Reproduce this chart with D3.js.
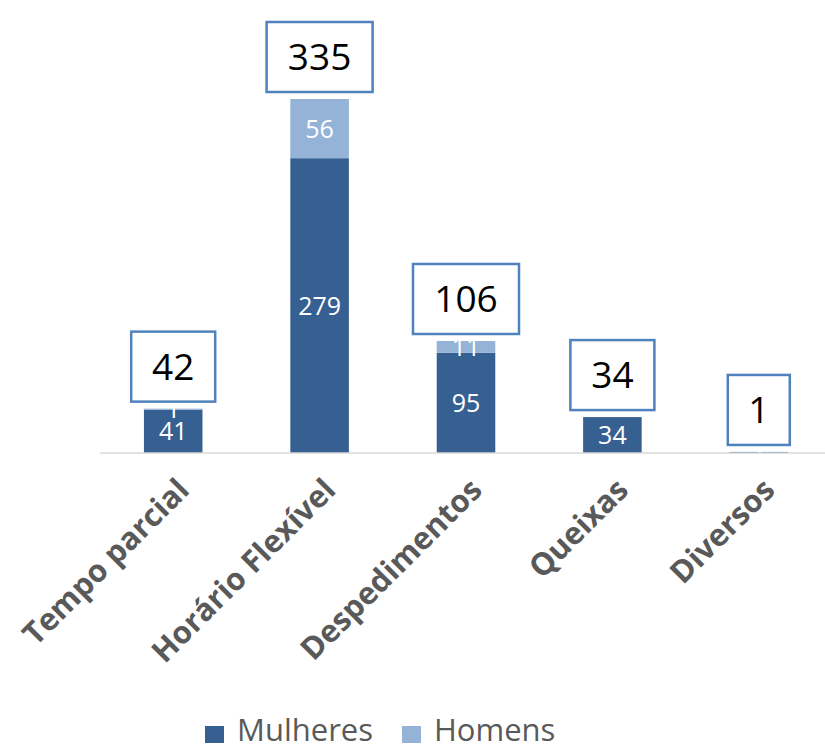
<!DOCTYPE html>
<html>
<head>
<meta charset="utf-8">
<script src="https://cdn.jsdelivr.net/npm/d3@7"></script>
<style>
  body { margin: 0; background: #fff; }
  svg { display: block; font-family: "Open Sans", "Liberation Sans", sans-serif; }
</style>
</head>
<body>
<svg id="chart" width="825" height="751"></svg>
<script>
// data
var categories = ['Tempo parcial', 'Horário Flexível', 'Despedimentos', 'Queixas', 'Diversos'];
var mulheres = [41, 279, 95, 34, 1];
var homens = [1, 56, 11, 0, 0];
var seriesNames = ['Mulheres', 'Homens'];
var seriesColors = ['#376092', '#95b3d7'];

var svg = d3.select('#chart');
var baseY = 453;

var x = d3.scaleBand().domain(categories).range([100, 832]).paddingInner(0.6).paddingOuter(0.3);
var y = d3.scaleLinear().domain([0, 335]).range([baseY, 99]);

var rows = categories.map(function (c, i) {
	return { cat: c, Mulheres: mulheres[i], Homens: homens[i] };
});
var stacked = d3.stack().keys(seriesNames)(rows);

// bars
var g = svg.append('g');
stacked.forEach(function (layer, li) {
	g.selectAll('.bar' + li).data(layer).enter().append('rect')
		.attr('class', 'bar' + li)
		.attr('x', function (d) { return x(d.data.cat); })
		.attr('width', x.bandwidth())
		.attr('y', function (d) { return y(d[1]); })
		.attr('height', function (d) { return y(d[0]) - y(d[1]); })
		.style('fill', seriesColors[li]);
});

// axis line
svg.append('line')
	.attr('x1', 100).attr('x2', 825)
	.attr('y1', baseY).attr('y2', baseY)
	.style('stroke', '#d9d9d9').style('stroke-width', 1.5);

// inside labels
stacked.forEach(function (layer, li) {
	g.selectAll('.lab' + li).data(layer.filter(function (d) { return d[1] - d[0] > 0; })).enter().append('text')
		.attr('x', function (d) { return x(d.data.cat) + x.bandwidth() / 2; })
		.attr('y', function (d) { return (y(d[0]) + y(d[1])) / 2; })
		.attr('dy', '0.36em')
		.style('text-anchor', 'middle')
		.style('font-size', '25px')
		.style('fill', '#fff')
		.text(function (d) { return d[1] - d[0]; });
});

// total boxes
rows.forEach(function (r) {
	var total = r.Mulheres + r.Homens;
	var cx = x(r.cat) + x.bandwidth() / 2;
	var txt = String(total);
	var w = 40 + txt.length * 22;
	var h = 70;
	var bottom = y(total) - 7;
	svg.append('rect')
		.attr('x', cx - w / 2).attr('y', bottom - h)
		.attr('width', w).attr('height', h)
		.style('fill', '#fff').style('stroke', '#4f81bd').style('stroke-width', 2.5);
	svg.append('text')
		.attr('x', cx).attr('y', bottom - h / 2)
		.attr('dy', '0.36em')
		.style('text-anchor', 'middle')
		.style('font-size', '37px')
		.style('fill', '#000')
		.text(txt);
});

// category labels
svg.selectAll('.cat').data(categories).enter().append('text')
	.attr('class', 'cat')
	.attr('transform', function (d) { return 'translate(' + (x(d) + x.bandwidth() / 2 + 2) + ',' + 476 + ') rotate(-45)'; })
	.attr('dy', '0.72em')
	.style('text-anchor', 'end')
	.style('font-size', '31px')
	.style('font-weight', 'bold')
	.style('fill', '#595959')
	.text(function (d) { return d; });

// legend
var legX = [205, 402];
seriesNames.forEach(function (s, i) {
	svg.append('rect')
		.attr('x', legX[i]).attr('y', 726)
		.attr('width', 19).attr('height', 17)
		.style('fill', seriesColors[i]);
	svg.append('text')
		.attr('x', legX[i] + 32).attr('y', 741)
		.style('font-size', '31px')
		.style('fill', '#595959')
		.text(s);
});
</script>
</body>
</html>
